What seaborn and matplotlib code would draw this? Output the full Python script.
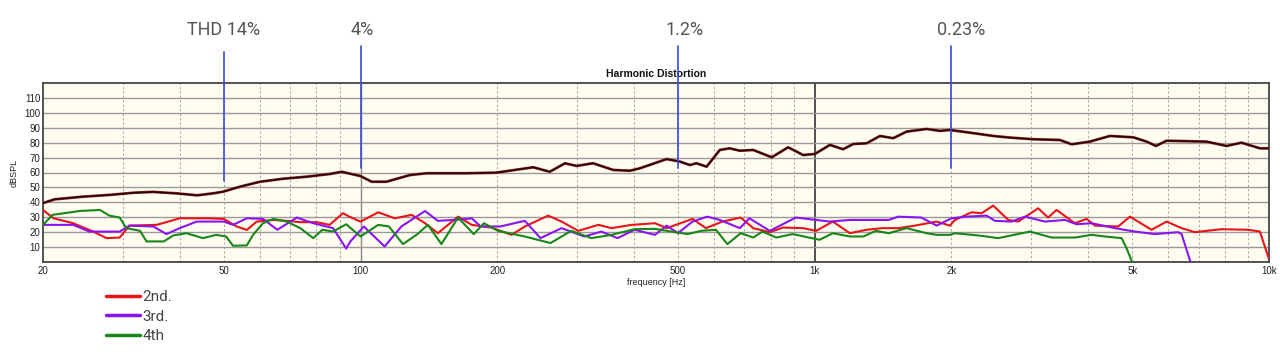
import matplotlib
matplotlib.use("Agg")
import matplotlib.pyplot as plt
import seaborn as sns
import pandas as pd
from matplotlib.ticker import FixedLocator, NullFormatter
from matplotlib.lines import Line2D

# fundamental (dBSPL)
fund_f = [20, 21.2, 24.5, 28.1, 31.6, 34.9, 39.4, 43.7, 47.3, 49.8, 54.3, 60.1, 67.5, 76.2, 85.6,
          90.9, 100, 105.8, 114, 128.5, 139.8, 171, 199, 240, 261, 282, 299, 325, 360, 392,
          412, 472, 505, 531, 549, 578, 618, 650, 684, 732, 804, 874, 943, 1000, 1080, 1155,
          1215, 1301, 1392, 1488, 1593, 1763, 1886, 1984, 2196, 2471, 2690, 3027, 3464, 3677,
          4032, 4464, 5024, 5377, 5637, 5950, 7288, 8064, 8700, 9549, 10000]
fund_db = [39.5, 42, 43.8, 45, 46.4, 47, 46, 44.7, 46, 47.1, 50.5, 53.8, 55.8, 57.2, 59,
           60.5, 57.6, 53.8, 53.8, 58.3, 59.5, 59.5, 59.9, 63.5, 60.5, 66.2, 64.4, 66.2, 61.7, 61.2,
           62.8, 69, 67.3, 65, 66.2, 63.9, 75.1, 76.2, 74.6, 75.1, 70.2, 76.9, 71.7, 72.4, 78.5, 75.6,
           79.1, 79.6, 84.5, 83, 87.4, 89.2, 87.9, 88.5, 86.7, 84.5, 83.4, 82.3, 81.8, 78.9,
           80.7, 84.5, 83.6, 80.7, 77.8, 81.3, 80.7, 77.8, 80, 76.2, 76.2]

# 2nd harmonic
h2_f = [20, 21.1, 23.3, 25.8, 27.6, 29.5, 31, 35.6, 40, 45.9, 50, 53.4, 56.2, 59.1, 64.3, 68.8,
        73.7, 80, 85.5, 91.5, 94.5, 100, 109.4, 119, 129.6, 138.7, 148, 164, 175.7, 194, 215,
        230, 259, 277, 301.6, 334, 357, 395, 445, 472, 538, 576, 626, 687, 732, 796, 851, 943,
        1007, 1096, 1195, 1301, 1407, 1530, 1662, 1855, 1984, 2035, 2214, 2330, 2471, 2667,
        2805, 3104, 3264, 3406, 3738, 3966, 4136, 4657, 4940, 5515, 5950, 6420, 6868, 7862,
        8998, 9549, 10000]
h2_db = [34.9, 29.3, 26, 20.4, 16, 16.4, 24.4, 24.9, 29.3, 29.3, 28.9, 23.8, 21.5, 27.1, 28.2, 27.6,
         26.7, 26.7, 24.9, 32.7, 30.4, 27.1, 33.3, 29.3, 31.6, 26, 19.3, 30.4, 24.9, 23.1, 18.2,
         23.8, 31.1, 27.1, 20.9, 24.9, 22.7, 24.9, 26, 22.7, 28.9, 22.7, 27.1, 29.8, 22.7, 20, 23.1, 22.7,
         20.9, 27.1, 19.3, 21.6, 22.7, 22.7, 24.4, 27.1, 24.4, 28.2, 33.3, 32.7, 37.8, 28.2,
         27.1, 36, 29.8, 34.9, 26, 28.9, 24.4, 23.8, 30.4, 21.6, 27.1, 22.7, 20, 22,
         21.6, 20.4, 2]

# 3rd harmonic
h3_f = [20, 23.3, 25.3, 29.5, 31, 35, 37.4, 40, 43.6, 50, 52.4, 56.2, 61, 65.6, 72.4, 78.7, 87,
        93, 95, 101.7, 113, 123, 138.7, 148, 161, 175.7, 184, 203, 230, 249, 277, 311, 339,
        368, 401, 445, 472, 500, 538, 580, 618, 684, 718, 796, 909, 1080, 1195, 1455, 1527,
        1717, 1855, 2000, 2156, 2390, 2492, 2712, 2902, 3212, 3554, 3770, 4068, 4578, 5066,
        5608, 6310, 6420, 6750]
h3_db = [24.9, 24.9, 20.4, 20.4, 24.4, 23.8, 18.7, 22.7, 27.1, 27.1, 24.9, 29.3, 28.9, 21.6, 29.8, 26, 22.7,
         9.0, 13.8, 23.8, 10.4, 23.8, 34.2, 27.6, 28.2, 29.3, 23.8, 23.8, 27.6, 16, 22.7, 17.1, 20.4,
         16, 21.6, 18.2, 24.4, 19.3, 27.1, 30.4, 28.2, 22.7, 29.3, 20.9, 29.8, 27.1, 28.2, 28.2, 30.4,
         29.8, 24.4, 29.3, 30.4, 31.1, 27.6, 27.1, 30.4, 27.1, 28.2, 25.3, 26, 22.7, 20.4,
         18.7, 20, 18.7, -2]

# 4th harmonic
h4_f = [20, 21, 24.1, 26.7, 28, 29.5, 30.5, 32.7, 33.8, 36.9, 38.7, 41.4, 45, 48.1, 50.6, 52.4,
        56.2, 58, 61, 64.3, 68.8, 73.7, 78.7, 82.4, 87, 93, 100, 109.4, 115.5, 124, 133.5,
        140.7, 150.7, 164, 177.5, 187, 200.7, 230, 262, 291, 322, 357, 401, 445, 472, 525,
        562, 606, 642, 687, 732, 767, 823, 894, 1025, 1096, 1195, 1280, 1362, 1455, 1593,
        1763, 1855, 1984, 2035, 2291, 2535, 2977, 3322, 3738, 4068, 4352, 4736, 4858, 5024]
h4_db = [24.9, 31.6, 34.2, 34.9, 31.1, 29.8, 22.7, 20.9, 13.8, 13.8, 17.8, 19.3, 16, 18.2, 17.1, 10.9,
         11.1, 18.2, 26, 28.9, 27.1, 22.7, 16, 21.6, 20.4, 25.3, 17.1, 24.9, 23.8, 12, 18.7,
         24.9, 12, 29.8, 18.7, 26, 20.9, 17.1, 12.7, 20.9, 16, 18.2, 22, 22.2, 20.9, 18.7,
         20.9, 21.6, 12, 19.3, 16.4, 20.4, 16.4, 18.7, 14.9, 19.3, 17.1, 17.1, 20.9, 19.3, 22.7,
         19.3, 18.2, 18.2, 19.3, 17.8, 16, 20.4, 16.4, 16.4, 18.2, 17.1, 16, 9.3, -2]

series_labels = ["2nd.", "3rd.", "4th"]
series_colors = ["#e8141a", "#8a14f0", "#17871a"]

x_ticks = [20, 50, 100, 200, 500, 1000, 2000, 5000, 10000]
x_ticklabels = ["20", "50", "100", "200", "500", "1k", "2k", "5k", "10k"]
y_ticks = [10, 20, 30, 40, 50, 60, 70, 80, 90, 100, 110]

# THD markers
mark_f = [50, 100, 500, 2000]
mark_lo = [54.5, 63, 63, 63]
mark_hi = [141, 145, 145, 145]
mark_text = ["THD 14%", "4%", "1.2%", "0.23%"]
mark_dx = [0, 2, 7, 10]

sns.set_theme(style="white")
plt.rcParams["font.family"] = ["Liberation Sans", "DejaVu Sans"]

fig = plt.figure(figsize=(12.8, 3.64), dpi=100)
ax = fig.add_axes([43 / 1280, 1 - 262 / 364, (1269 - 43) / 1280, (262 - 83) / 364])
ax.set_facecolor("#fffcf0")

# grid
minor = [f * d for d in (10, 100, 1000) for f in range(2, 10)]
for f in minor:
    if 20 < f < 10000:
        ax.axvline(f, color="#aaaaaa", lw=0.8, ls=(0, (2, 2)), zorder=1)
ax.axvline(100, color="#888888", lw=1.0, zorder=1)
ax.axvline(1000, color="#333333", lw=1.2, zorder=1)
for v in y_ticks:
    ax.axhline(v, color="#9a9a9a", lw=1.0, zorder=1)

sns.lineplot(x=fund_f, y=fund_db, ax=ax, color="#9a3030", lw=2.0, estimator=None, sort=False, zorder=3)
sns.lineplot(x=fund_f, y=fund_db, ax=ax, color="#2a0404", lw=1.2, estimator=None, sort=False, zorder=4)

for fs, ds, c in zip([h2_f, h3_f, h4_f], [h2_db, h3_db, h4_db], series_colors):
    sns.lineplot(x=fs, y=ds, ax=ax, color=c, lw=1.5, estimator=None, sort=False, zorder=3)

ax.set_xscale("log")
ax.set_xlim(20, 10000)
ax.set_ylim(0, 120)
ax.xaxis.set_major_locator(FixedLocator(x_ticks))
ax.set_xticklabels(x_ticklabels)
ax.xaxis.set_minor_formatter(NullFormatter())
ax.set_yticks(y_ticks)
ax.tick_params(axis="both", which="both", length=0, labelsize=7, pad=2, colors="#222222")
ax.tick_params(axis="x", pad=3)
for s in ax.spines.values():
    s.set_color("#444444")
    s.set_linewidth(1.3)

ax.set_title("Harmonic Distortion", fontsize=7.5, fontweight="bold", pad=4, color="#111111")
ax.set_xlabel("frequency [Hz]", fontsize=6.5, labelpad=1, color="#222222")
ax.set_ylabel("dBSPL", fontsize=6.5, labelpad=4, color="#222222")

for f, lo, hi, t, dx in zip(mark_f, mark_lo, mark_hi, mark_text, mark_dx):
    ax.plot([f, f], [lo, hi], color="#3a4ae0", lw=1.2, clip_on=False, zorder=5)
    ax.annotate(t, xy=(f, 155.6), xytext=(dx * 0.72, 0), textcoords="offset points",
                ha="center", va="center", fontsize=13, color="#555555",
                family=["Roboto", "DejaVu Sans"], annotation_clip=False)

handles = [Line2D([0], [0], color=c, lw=2.5) for c in series_colors]
leg = fig.legend(handles, series_labels, loc="upper left", bbox_to_anchor=(0.083, 0.203),
                 frameon=False, fontsize=11, handlelength=2.2, handletextpad=0.15,
                 labelspacing=0.36, borderpad=0, borderaxespad=0)
for t in leg.get_texts():
    t.set_color("#444444")
    t.set_family(["Roboto", "DejaVu Sans"])

fig.savefig("out.png", dpi=100, facecolor="white")
